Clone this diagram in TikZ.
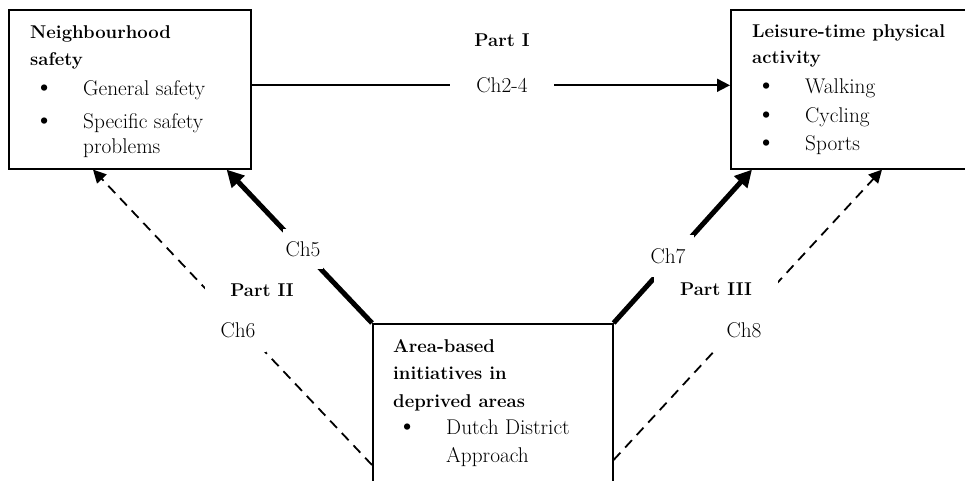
\documentclass[tikz,border=0pt]{standalone}
\usepackage{fontspec}
\usetikzlibrary{arrows.meta}

\newcommand{\diagfont}{\fontsize{21.3}{27.5}\selectfont}
\newcommand{\headfont}{\fontsize{18.5}{27.5}\selectfont\bfseries}
\tikzset{
  topicbox/.style={draw, line width=1.6pt, anchor=north west, inner sep=0pt},
  topictext/.style={anchor=north west, align=left, inner sep=0pt},
  labelgap/.style={fill=white, inner sep=0pt},
  partlabel/.style={labelgap, font=\headfont},
  plainarrow/.style={line width=1.8pt, -{Triangle[length=13pt,width=13pt]}},
  heavyarrow/.style={line width=5pt, -{Triangle[length=17pt,width=17pt]}},
  dashedarrow/.style={line width=1.8pt, dash pattern=on 10pt off 7pt, -{Triangle[length=13pt,width=13pt]}},
}
\newcommand{\hd}[1]{{\headfont #1}}
\newcommand{\itm}[1]{\hspace*{4pt}\makebox[49pt][l]{{\fontsize{28}{28}\selectfont\textbullet}}#1}
\newcommand{\cont}[1]{\hspace*{53pt}#1}

\begin{document}
\begin{tikzpicture}[x=1pt, y=-1pt, font=\diagfont]
    \useasboundingbox (0,0) rectangle (965,481);
    \clip (0,0) rectangle (965,481);

    % the three topics
    \node[topicbox, minimum width=242pt, minimum height=159pt] (safety) at (8,9) {};
    \node[topicbox, minimum width=260pt, minimum height=159pt] (activity) at (730,9) {};
    \node[topicbox, minimum width=240pt, minimum height=200pt] (area) at (372,323) {};

    \node[topictext] (safetytxt) at (30,25.2) {\hd{Neighbourhood}\\\hd{safety}\\[2.5pt]\itm{General safety}\\[5pt]\itm{Specific safety}\\[-2pt]\cont{problems}};
    \node[topictext] (activitytxt) at (752,24.2) {\hd{Leisure-time physical}\\[-1pt]\hd{activity}\\[2pt]\itm{Walking}\\[1.5pt]\itm{Cycling}\\[0.5pt]\itm{Sports}};
    \node[topictext] (areatxt) at (393,339.2) {\hd{Area-based}\\\hd{initiatives in}\\\hd{deprived areas}\\\itm{Dutch District}\\\cont{Approach}};

    % links between them
    \draw[plainarrow] ([yshift=4pt]safety.east) -- ([yshift=4pt]activity.west);
    \draw[heavyarrow] (area.north west) -- ([xshift=-25pt]safety.south east);
    \draw[dashedarrow] ([yshift=-142pt]area.north west) -- ([xshift=85pt]safety.south west);
    \draw[heavyarrow] (area.north east) -- ([xshift=22pt]activity.south west);
    \draw[dashedarrow] ([yshift=-137pt]area.north east) -- ([xshift=152pt]activity.south west);

    % parts and chapters
    \node[partlabel] (part1) at (502,40) {Part I};
    \node[labelgap, minimum width=104pt, minimum height=30pt] (ch24) at (502,85) {Ch2-4};
    \node[partlabel, minimum width=114pt, minimum height=36pt] (part2) at (262,290) {Part II};
    \node[labelgap, minimum width=40pt, minimum height=40pt] (ch5) at (303,249) {Ch5};
    \node[labelgap, minimum width=56pt, minimum height=44pt] (ch6) at (238,330) {Ch6};
    \node[partlabel, minimum width=124pt, minimum height=38pt] (part3) at (716,289) {Part III};
    \node[labelgap, minimum width=52pt, minimum height=42pt] (ch7) at (668,256) {Ch7};
    \node[labelgap, minimum width=64pt, minimum height=44pt] (ch8) at (744,330) {Ch8};
\end{tikzpicture}
\end{document}
